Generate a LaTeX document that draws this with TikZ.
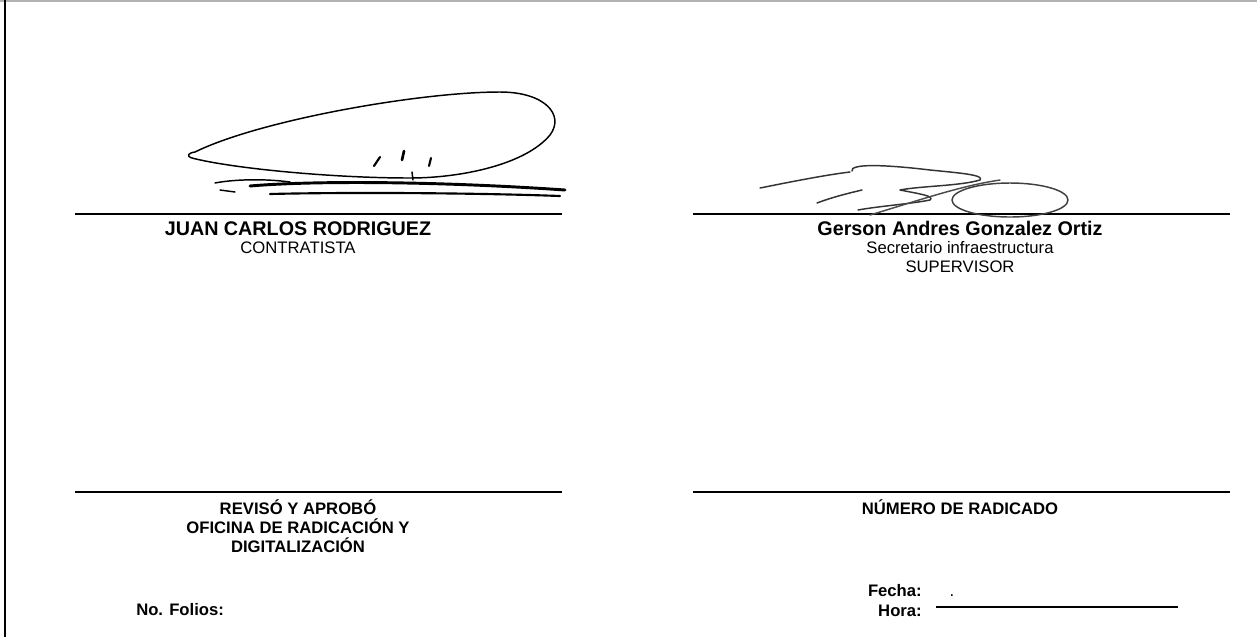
\documentclass[tikz,border=0pt]{standalone}
\usepackage{fontspec}
\setmainfont{Liberation Sans}

\begin{document}
\begin{tikzpicture}[x=0.75pt,y=-0.75pt,node distance=14.25pt,
  txt/.style={inner sep=0pt,text height=9pt,text depth=2.5pt,font=\fontsize{12.5}{14.3}\selectfont},
  name label/.style={txt,font=\fontsize{12.5}{14.3}\selectfont\bfseries},
  big name/.style={inner sep=0pt,text height=10.5pt,text depth=2.5pt,font=\fontsize{14.8}{17}\selectfont\bfseries},
  sign line/.style={draw=black,line width=0.9pt},
  ink/.style={line width=1.1pt,line cap=round,line join=round}]

\useasboundingbox (0,0) rectangle (1257,637);
\draw[gray!60,line width=1.5pt] (0,0.8) -- (1257,0.8);
\draw[line width=1.8pt] (5,0) -- (5,637);

\coordinate (l1a) at (75,214);  \coordinate (l1b) at (562,214);
\coordinate (l2a) at (693,214); \coordinate (l2b) at (1230,214);
\coordinate (l3a) at (75,492);  \coordinate (l3b) at (562,492);
\coordinate (l4a) at (693,492); \coordinate (l4b) at (1230,492);
\coordinate (fa) at (936,607);  \coordinate (fb) at (1178,607);

\draw[sign line] (l1a) -- (l1b);
\draw[sign line] (l2a) -- (l2b);
\draw[sign line] (l3a) -- (l3b);
\draw[sign line] (l4a) -- (l4b);
\draw[sign line] (fa) -- (fb);

\node[big name] (juan) at (298,230) {JUAN CARLOS RODRIGUEZ};
\node[txt] (contr) at (298,249) {CONTRATISTA};

\node[big name] (gerson) at (960,230) {Gerson Andres Gonzalez Ortiz};
\node[txt] (secre) at (960,249) {Secretario infraestructura};
\node[txt] (super) [below of=secre] {SUPERVISOR};

\node[name label] (revis) at (298,510) {REVISÓ Y APROBÓ};
\node[name label] (ofici) [below of=revis] {OFICINA DE RADICACIÓN Y};
\node[name label] (digit) [below of=ofici] {DIGITALIZACIÓN};
\node[name label] (numer) at (960,510) {NÚMERO DE RADICADO};

\node[name label,anchor=west] (folio) at (136,611) {No. Folios:};
\node[name label,anchor=east] (fecha) at (922,592) {Fecha:};
\node[name label,anchor=east] (hora) at (922,612) {Hora:};
\node[txt] (dot) at (952,592) {.};

% firma contratista
\draw[ink] (195,152) .. controls (260,120) and (420,92) .. (500,92)
  .. controls (545,92) and (565,115) .. (550,135)
  .. controls (525,165) and (460,178) .. (410,178)
  .. controls (330,178) and (230,168) .. (192,158)
  .. controls (186,156) and (188,153) .. (195,152);
\draw[ink,line width=2.2pt] (250,186) .. controls (320,180) and (450,182) .. (565,190);
\draw[ink] (215,183) .. controls (230,180) and (260,178) .. (290,182);
\draw[ink,line width=1.6pt] (270,194) .. controls (350,192) and (480,193) .. (560,196);
\draw[ink] (220,190) -- (235,192);
\draw[ink,line width=1.6pt] (374,166) -- (380,157);
\draw[ink,line width=2pt] (402,160) -- (404,151);
\draw[ink,line width=1.6pt] (429,166) -- (431,158);
\draw[ink] (412,172) -- (413,180);

% firma supervisor
\draw[ink,black!80] (760,188) .. controls (790,182) and (825,175) .. (850,172);
\draw[ink,black!80] (817,203) .. controls (830,198) and (845,194) .. (862,190);
\draw[ink,black!80] (852,171) .. controls (850,164) and (880,164) .. (930,170)
  .. controls (960,173) and (985,175) .. (980,180)
  .. controls (960,186) and (920,186) .. (900,190)
  .. controls (920,194) and (935,196) .. (930,200)
  .. controls (910,204) and (880,206) .. (858,210);
\draw[ink,black!70] (870,215) .. controls (920,200) and (960,186) .. (1000,180);
\draw[ink,black!75] (1010,200) ellipse (58 and 17);
\end{tikzpicture}
\end{document}
